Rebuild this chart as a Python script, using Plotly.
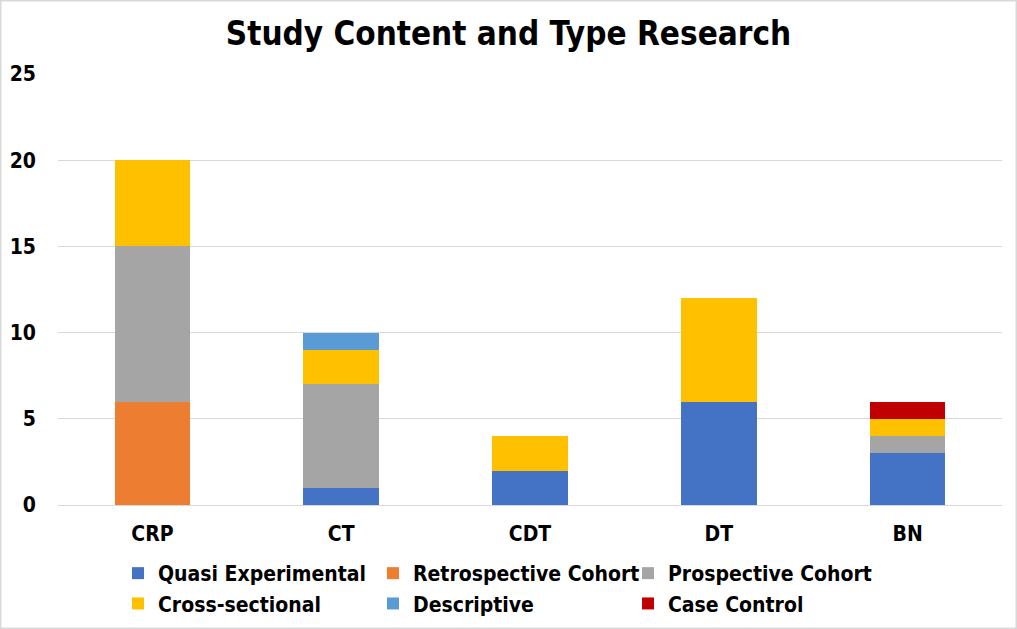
import plotly.graph_objects as go

categories = ["CRP", "CT", "CDT", "DT", "BN"]
series_names = ["Quasi Experimental", "Retrospective Cohort", "Prospective Cohort",
                "Cross-sectional", "Descriptive", "Case Control"]
quasi_experimental = [0, 1, 2, 6, 3]
retrospective_cohort = [6, 0, 0, 0, 0]
prospective_cohort = [9, 6, 0, 0, 1]
cross_sectional = [5, 2, 2, 6, 1]
descriptive = [0, 1, 0, 0, 0]
case_control = [0, 0, 0, 0, 1]
y_ticks = [0, 5, 10, 15, 20, 25]

series_values = [quasi_experimental, retrospective_cohort, prospective_cohort,
                 cross_sectional, descriptive, case_control]
colors = ["#4472C4", "#ED7D31", "#A5A5A5", "#FFC000", "#5B9BD5", "#C00000"]

FONT = "DejaVu Sans Condensed, DejaVu Sans"

def f(size):
    return dict(family=FONT, size=size, color="black", weight="bold")

fig = go.Figure()
for name, vals, col in zip(series_names, series_values, colors):
    fig.add_trace(go.Bar(x=categories, y=vals, name=name, marker_color=col,
                         marker_line_width=0))

W, H = 1017, 629
ml, mr, mt, mb = 58, 15, 74, 124
pw = W - ml - mr
ph = H - mt - mb

fig.update_layout(
    width=W, height=H,
    barmode="stack", bargap=0.6,
    plot_bgcolor="white", paper_bgcolor="white",
    margin=dict(l=ml, r=mr, t=mt, b=mb, autoexpand=False),
    font=f(20),
    title=dict(text="Study Content and Type Research", x=0.5, xanchor="center",
               xref="container", yref="container",
               y=1 - 33 / H, yanchor="middle", font=f(33)),
    xaxis=dict(showgrid=False, showline=True, linecolor="#D9D9D9", linewidth=1,
               ticks="", tickfont=f(21), ticklabelstandoff=10, automargin=False),
    yaxis=dict(range=[0, 25], tickvals=y_ticks, showgrid=True, gridcolor="#D9D9D9",
               gridwidth=1, zeroline=False, showline=False, ticks="",
               tickfont=f(21), ticklabelstandoff=21, automargin=False),
    legend=dict(orientation="h", xref="container", yref="container",
                x=118 / W, xanchor="left",
                y=1 - 553 / H, yanchor="top",
                entrywidth=210, entrywidthmode="pixels",
                traceorder="normal", itemwidth=30,
                font=f(21), bgcolor="rgba(0,0,0,0)"),
    shapes=[dict(type="rect", xref="paper", yref="paper",
                 x0=(0.75 - ml) / pw, x1=(W - 0.75 - ml) / pw,
                 y0=(0.75 - mb) / ph, y1=(H - mb - 0.75) / ph,
                 line=dict(color="#D9D9D9", width=1.5), fillcolor="rgba(0,0,0,0)",
                 layer="above")],
)

fig.write_html("out.html", config={"displayModeBar": False},
               post_script="document.body.style.margin='0';")
